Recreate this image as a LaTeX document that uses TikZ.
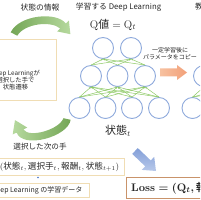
\documentclass[tikz,border=0pt]{standalone}
\usepackage{fix-cm}
\usepackage{amsmath}
\usepackage{fontspec}
\newfontfamily\cjk[AutoFakeBold=2]{Noto Sans CJK JP}
\usetikzlibrary{arrows.meta}
\definecolor{nodeblue}{HTML}{8FAADC}
\definecolor{linkgreen}{HTML}{8DC965}
\definecolor{gdark}{HTML}{74A656}
\definecolor{glight}{HTML}{B6D99E}
\definecolor{orA}{HTML}{F7C1A0}
\definecolor{orB}{HTML}{F2A079}
\definecolor{blA}{HTML}{839FD8}
\definecolor{blB}{HTML}{B8C9EA}
\definecolor{boxedge}{HTML}{F0DDB4}
\definecolor{lossedge}{HTML}{C9936A}
\definecolor{dotblue}{HTML}{4472C4}
\definecolor{txt}{HTML}{262626}
\tikzset{
 neuron/.style={circle, draw=nodeblue, line width=0.9pt, fill=white, minimum size=21pt, inner sep=0pt},
 link/.style={draw=linkgreen, line width=0.5pt, -{Stealth[length=2.2pt,width=1.8pt]}},
 title/.style={font=\cjk\fontsize{7.8}{9}\selectfont, text=txt, inner sep=0pt},
 note/.style={font=\cjk\fontsize{6.3}{7}\selectfont, text=txt, inner sep=0pt, align=center},
 mathtxt/.style={font=\fontsize{11}{13}\selectfont, text=txt, inner sep=0pt},
 databox/.style={draw=boxedge, line width=0.6pt, inner sep=0pt, text=txt},
}
\begin{document}
\begin{tikzpicture}[x=1pt,y=-1pt]
\useasboundingbox (0,0) rectangle (200,200);
\clip (0,0) rectangle (200,200);

% left box
\draw[draw=boxedge, line width=0.6pt] (-10,39) rectangle (56,100);
\node[note] (state) at (15.5,80.5) {Deep Learningが\\選択した手で\\状態遷移};

% titles
\node[title] (t1) at (40,7.5) {状態の情報};
\node[title] (t2) at (118.5,7.5) {学習する Deep Learning};
\node[title, anchor=west] (t3) at (195,7.5) {教師となる Deep Learning};

\node[mathtxt] (q) at (113,24.5) {$\mathrm{Q}\text{\cjk 値} = \mathrm{Q}_t$};

% networks
\foreach \p/\dx in {a/0,b/113}{
\begin{scope}[xshift=\dx pt]
\node[neuron] (\p11) at (103,48) {};
\node[neuron] (\p12) at (131,48) {};
\node[neuron] (\p21) at (91,76) {};
\node[neuron] (\p22) at (117.5,76) {};
\node[neuron] (\p23) at (145,76) {};
\node[neuron] (\p31) at (79.5,108) {};
\node[neuron] (\p32) at (105.5,108) {};
\node[neuron] (\p33) at (132,108) {};
\node[neuron] (\p34) at (159,108) {};
\foreach \i in {1,2}{\foreach \j in {1,2,3}{\draw[link] (\p2\j.north) -- (\p1\i.south);}}
\foreach \i in {1,2,3}{\foreach \j in {1,2,3,4}{\draw[link] (\p3\j.north) -- (\p2\i.south);}}
\end{scope}}

\node[mathtxt] (st) at (118,131) {$\text{\cjk 状態}_t$};

% orange copy arrow
\path[left color=orA, right color=orB] (160,68.5) -- (177,68.5) -- (177,65) -- (187,72.5) -- (177,80) -- (177,76.5) -- (160,76.5) -- cycle;
\node[note, font=\cjk\fontsize{6}{7.5}\selectfont] (copy) at (170,53.8) {一定学習後に\\パラメータをコピー};

% green curved arrows
\path[left color=gdark, right color=glight] (10.7,32.3) .. controls (19.5,14.5) and (57,11.5) .. (65.75,23.5) -- (68.9,20.6) -- (70.4,34.2) -- (57.1,31.4) -- (60.25,28.5) .. controls (51,20.5) and (24.5,23.5) .. (17.3,35.7) -- cycle;
\path[left color=glight, right color=gdark] (70.6,119.8) .. controls (68.5,136.5) and (23,149.5) .. (16.6,132.6) -- (12.7,134.4) -- (15,120.1) -- (27.3,127.6) -- (23.4,129.4) .. controls (29,138.5) and (59.5,129.5) .. (63.4,118.2) -- cycle;

\node[title, font=\cjk\fontsize{7.6}{9}\selectfont] (sel) at (40,146.5) {選択した次の手};

% data boxes
\node[databox, minimum width=129pt, minimum height=16.5pt, font=\fontsize{8.6}{10}\selectfont] (tuple) at (59.5,166.75) {$(\text{\cjk 状態}_t, \text{\cjk 選択手}_t, \text{\cjk 報酬}_t, \text{\cjk 状態}_{t+1})$};
\node[circle, fill=dotblue, inner sep=0pt, minimum size=1.8pt] (dot) at (38,177.5) {};
\node[databox, minimum width=104pt, minimum height=14pt, font=\cjk\fontsize{7}{8}\selectfont] (data) at (37,190) {Deep Learning の学習データ};

% blue arrow
\path[top color=blA, bottom color=blB] (137.8,148.1) -- (150.8,160.5) -- (154.2,156.9) -- (156,171) -- (141.8,169.9) -- (145.2,166.3) -- (132.2,153.9) -- cycle;

% loss box
\draw[draw=lossedge, line width=0.9pt] (126,177.5) rectangle (215,198.5);
\node[anchor=west, font=\fontsize{11}{13}\selectfont, text=txt, inner sep=0pt] (loss) at (131,188) {{\boldmath$\mathbf{Loss} = (\mathbf{Q}_t,$}\,{\cjk\bfseries 報酬}};
\end{tikzpicture}
\end{document}
